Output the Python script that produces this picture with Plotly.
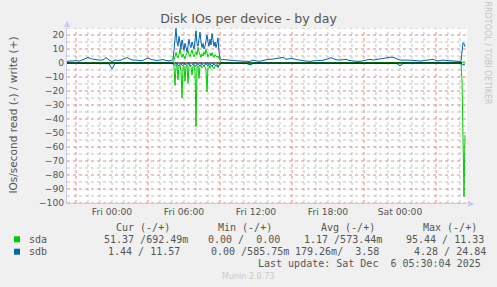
import plotly.graph_objects as go
from datetime import datetime, timedelta

# ---------------- data ----------------
SEG_STARTS = [datetime(2025, 12, 4, 20, 15), datetime(2025, 12, 5, 5, 5),
              datetime(2025, 12, 5, 9, 30), datetime(2025, 12, 6, 5, 5)]
SEG_STEPS = [15, 5, 15, 5]

X_START = datetime(2025, 12, 4, 20, 15)
X_END = datetime(2025, 12, 6, 5, 35)

TICK_LABEL_TIMES = [datetime(2025, 12, 5, 0), datetime(2025, 12, 5, 6), datetime(2025, 12, 5, 12),
                    datetime(2025, 12, 5, 18), datetime(2025, 12, 6, 0)]
TICK_LABELS = ["Fri 00:00", "Fri 06:00", "Fri 12:00", "Fri 18:00", "Sat 00:00"]
MAJOR_GRID_TIMES = [datetime(2025, 12, 4, 21), datetime(2025, 12, 5, 3), datetime(2025, 12, 5, 9),
                    datetime(2025, 12, 5, 15), datetime(2025, 12, 5, 21), datetime(2025, 12, 6, 3)]
Y_MAJOR_GRID = [20, 10, 0, -10, -20, -30, -40, -50, -60, -70, -80, -90, -100]
Y_MINOR_GRID = [25, 15, 5, -5, -15, -25, -35, -45, -55, -65, -75, -85, -95]

# sdb write (+)
sdb_write_q1 = [1.2, 1.1, 1.5, 1.7, 1.3, 2.1, 3.3, 4.0, 3.0, 2.6, 2.1, 2.0, 2.2, 3.9, 2.2, 1.0, 2.1, 1.8,
                2.1, 2.8, 3.9, 2.8, 2.1, 2.0, 1.8, 1.6, 2.6, 3.6, 2.5, 2.1, 1.8, 2.1, 2.5, 1.8, 1.5, 2.0]
sdb_write_burst = [2.5, 9, 17, 24.8, 15, 12, 19, 14, 10, 16.5, 12, 9, 14, 11, 8, 12, 17, 13, 11, 15,
                   12, 10, 16, 23, 14, 12, 17, 22, 15, 11, 14, 10, 12, 16, 20, 15, 12, 17, 13, 21,
                   16, 12, 15, 11, 14, 18, 8, 3.5, 2.5, 2.2, 2.5]
sdb_write_q2 = [2.2, 2.0, 1.8, 1.6, 1.5, 1.4, 1.2, 1.3, 1.1, 2.0, 1.8, 1.2, 1.6, 2.3, 2.6, 2.6, 2.9, 3.2,
                3.8, 4.0, 2.7, 3.0, 3.3, 2.6, 2.1, 1.9, 1.6, 1.4, 1.1, 1.5, 1.6, 1.4, 1.9, 2.3, 3.0, 3.8,
                2.9, 2.2, 2.1, 2.1, 2.6, 1.8, 1.5, 1.4, 1.1, 1.3, 1.9, 2.2, 2.6, 2.1, 2.5, 2.9, 3.3, 3.6,
                4.0, 4.2, 3.9, 3.2, 2.0, 2.1, 2.2, 2.1, 1.9, 1.7, 1.5, 1.4, 1.8, 2.1, 2.4, 2.6, 1.8, 1.5,
                2.1, 1.9, 1.5, 1.4, 1.1, 1.1, 1.0]
sdb_write_end = [1.0, 8.0, 14.6, 13.8, 11.57]

# sdb read (-)
sdb_read_q1 = [-0.05, -0.05, -0.05, -0.05, -0.05, -0.05, -0.05, -0.05, -0.05, -0.05, -0.05, -0.05,
               -0.05, -0.05, -0.5, -4.28, -0.4, -0.05, -0.05, -0.05, -0.05, -0.05, -0.05, -0.05,
               -0.05, -0.05, -0.05, -0.05, -0.05, -0.05, -0.05, -0.05, -0.05, -0.05, -0.05, -0.05]
sdb_read_burst = [-0.2, -1.0, -1.8, -1.2, -0.6, -1.4, -2.2, -1.0, -0.6, -1.6,
                  -2.0, -0.8, -0.6, -1.4, -1.8, -1.0, -0.6, -1.2, -2.0, -1.2,
                  -0.6, -1.0, -1.8, -2.4, -1.0, -0.6, -1.4, -2.0, -1.0, -0.6,
                  -1.2, -2.2, -1.0, -0.6, -1.4, -1.8, -0.8, -0.6, -1.6, -2.4,
                  -1.2, -0.6, -1.4, -2.0, -1.0, -2.8, -1.2, -0.6, -0.2, -0.1, -0.1]
sdb_read_q2 = [-0.05, -0.05, -0.05, -0.05, -0.05, -0.05, -0.05, -0.3, -1.2, -0.3, -0.05, -0.05,
               -0.05, -0.05, -0.05, -0.05, -0.05, -0.05, -0.05, -0.05, -0.05, -0.05, -0.05, -0.05,
               -0.05, -0.05, -0.05, -0.05, -0.05, -0.05, -0.05, -0.05, -0.05, -0.05, -0.05, -0.05,
               -0.05, -0.05, -0.05, -0.05, -0.05, -0.05, -0.05, -0.05, -0.05, -0.05, -0.05, -0.05,
               -0.05, -0.05, -0.05, -0.05, -0.05, -0.05, -0.05, -0.05, -0.05, -0.4, -2.0, -0.4,
               -0.05, -0.05, -0.05, -0.05, -0.05, -0.05, -0.05, -0.05, -0.05, -0.05, -0.05, -0.05,
               -0.05, -0.05, -0.05, -0.05, -0.05, -0.05, -0.05]
sdb_read_end = [-0.1, -1.2, -1.4, -1.0, -1.44]

# sda write (+)
sda_write_q1 = [0.0, 0.0, 0.0, 0.0, 0.0, 0.0, 0.0, 0.0, 0.0, 0.0, 0.0, 0.0, 0.0, 0.0, 0.0, 0.0, 0.0, 0.0,
                0.0, 0.0, 0.0, 0.0, 0.0, 0.0, 0.0, 0.0, 0.0, 0.0, 0.0, 0.0, 0.0, 0.0, 0.0, 0.0, 0.0, 0.1]
sda_write_burst = [0.5, 2, 4.5, 7.5, 5, 3.5, 6, 10.5, 6, 4, 6.5, 4, 3, 5.5, 8, 9, 6, 4.5, 7, 9.5,
                   6, 4.5, 6.5, 8, 5.5, 11.3, 8, 5.5, 4, 6.5, 5, 8, 6, 9.5, 6, 4.5, 6, 7, 5, 7.5,
                   5, 4, 6, 5, 4, 5, 3, 1.5, 0.4, 0.2, 0.1]
sda_write_q2 = [0.0, 0.0, 0.0, 0.0, 0.0, 0.0, 0.0, 0.0, 0.0, 0.0, 0.0, 0.0, 0.0, 0.0, 0.0, 0.0, 0.0, 0.0,
                0.0, 0.0, 0.0, 0.0, 0.0, 0.0, 0.0, 0.0, 0.0, 0.0, 0.0, 0.0, 0.0, 0.0, 0.0, 0.0, 0.0, 0.0,
                0.0, 0.0, 0.0, 0.0, 0.0, 0.0, 0.0, 0.0, 0.0, 0.0, 0.0, 0.0, 0.0, 0.0, 0.0, 0.0, 0.0, 0.0,
                0.0, 0.0, 0.0, 0.0, 0.0, 0.0, 0.0, 0.0, 0.0, 0.0, 0.0, 0.0, 0.0, 0.0, 0.0, 0.0, 0.0, 0.0,
                0.0, 0.0, 0.0, 0.0, 0.0, 0.0, 0.1]
sda_write_end = [0.1, 0.5, 0.6, 0.7, 0.69]

# sda read (-)
sda_read_q1 = [0.0, 0.0, 0.0, 0.0, 0.0, 0.0, 0.0, 0.0, 0.0, 0.0, 0.0, 0.0, 0.0, 0.0, 0.0, 0.0, 0.0, 0.0,
               0.0, 0.0, 0.0, 0.0, 0.0, 0.0, 0.0, 0.0, 0.0, 0.0, 0.0, 0.0, 0.0, 0.0, 0.0, 0.0, 0.0, 0.0]
sda_read_burst = [-0.3, -2, -16, -3, -1.5, -12, -2, -1.5, -6, -25, -3, -2, -13, -2.5, -1.5, -14.5, -2,
                  -1.5, -3, -8.6, -2, -1.5, -6, -45.4, -3, -2, -11, -2, -1.5, -3.5, -2, -1.5, -3,
                  -5, -20.5, -2.5, -1.5, -4, -2, -1.5, -3, -4, -2, -1.5, -2.5, -3.5, -1.5, -1, -0.3,
                  -0.1, 0.0]
sda_read_q2 = [0.0, 0.0, 0.0, 0.0, 0.0, 0.0, 0.0, -0.4, -1.5, -0.3, 0.0, 0.0, 0.0, 0.0, 0.0, 0.0, 0.0, 0.0,
               0.0, 0.0, 0.0, 0.0, 0.0, 0.0, 0.0, 0.0, 0.0, 0.0, 0.0, 0.0, 0.0, 0.0, 0.0, 0.0, 0.0, 0.0,
               0.0, 0.0, 0.0, 0.0, 0.0, 0.0, 0.0, 0.0, 0.0, 0.0, 0.0, 0.0, 0.0, 0.0, 0.0, 0.0, 0.0, 0.0,
               0.0, 0.0, 0.0, 0.0, 0.0, 0.0, 0.0, 0.0, 0.0, 0.0, 0.0, 0.0, 0.0, 0.0, 0.0, 0.0, 0.0, 0.0,
               0.0, 0.0, 0.0, 0.0, 0.0, 0.0, 0.0]
sda_read_end = [0.0, -12.0, -55.0, -95.44, -51.37]

ZERO_LINE_TIMES = [X_START, datetime(2025, 12, 6, 5, 10)]
ZERO_LINE_VALUES = [0, 0]

LEGEND_HEADERS = ["Cur (-/+)", "Min (-/+)", "Avg (-/+)", "Max (-/+)"]
SDA_STATS = ["51.37 /692.49m", "0.00 /\u00a0 0.00", "1.17 /573.44m", "95.44 / 11.33"]
SDB_STATS = ["1.44 / 11.57", "0.00 /585.75m", "179.26m/\u00a0 3.58", "4.28 / 24.84"]

SDA_COLOR = "#00cc00"
SDB_COLOR = "#0066b3"


def build(parts):
    xs, ys = [], []
    for start, step, vals in zip(SEG_STARTS, SEG_STEPS, parts):
        xs += [start + timedelta(minutes=step * k) for k in range(len(vals))]
        ys += list(vals)
    return xs, ys


series = [
    ("sda read", SDA_COLOR, [sda_read_q1, sda_read_burst, sda_read_q2, sda_read_end]),
    ("sda write", SDA_COLOR, [sda_write_q1, sda_write_burst, sda_write_q2, sda_write_end]),
    ("sdb read", SDB_COLOR, [sdb_read_q1, sdb_read_burst, sdb_read_q2, sdb_read_end]),
    ("sdb write", SDB_COLOR, [sdb_write_q1, sdb_write_burst, sdb_write_q2, sdb_write_end]),
]

fig = go.Figure()
for name, color, parts in series:
    xs, ys = build(parts)
    fig.add_trace(go.Scatter(x=xs, y=ys, mode="lines", name=name,
                             line=dict(color=color, width=1), hoverinfo="skip", showlegend=False))

fig.add_trace(go.Scatter(x=ZERO_LINE_TIMES, y=ZERO_LINE_VALUES, mode="lines",
                         line=dict(color="black", width=1.2), hoverinfo="skip", showlegend=False))

# ---------------- layout ----------------
L, R, T, B = 67, 30, 28, 84
W, H = 497, 287
PW, PH = W - L - R, H - T - B


def px(xp):
    return (xp - L) / PW


def py(yp):
    return (H - B - yp) / PH


FONT = "DejaVu Sans"
MONO = "DejaVu Sans Mono"
TXT = "#555555"
MAJOR = "rgba(225,120,120,0.9)"
MINOR = "rgba(185,185,185,0.9)"
DASH = "dot"
AXIS = "#c8c8f0"

fig.update_layout(
    width=W, height=H,
    margin=dict(l=L, r=R, t=T, b=B),
    paper_bgcolor="#f0f0f0", plot_bgcolor="white",
    title=dict(text="Disk IOs per device - by day", x=0.5, xref="container", xanchor="center",
               y=1 - 19 / H, yref="container", yanchor="middle",
               font=dict(family=FONT, size=12.6, color=TXT)),
    xaxis=dict(type="date", range=[X_START, X_END], tickvals=TICK_LABEL_TIMES, ticktext=TICK_LABELS,
               showgrid=False, ticks="", zeroline=False, showline=True, linecolor=AXIS, linewidth=1,
               tickfont=dict(family=FONT, size=9.2, color=TXT)),
    yaxis=dict(range=[-100, 25], tick0=0, dtick=10, showgrid=False, zeroline=False, showline=True,
               linecolor=AXIS, linewidth=1, ticks="", tickfont=dict(family=FONT, size=9.2, color=TXT)),
    showlegend=False,
)

ann = []
ann.append(dict(text="IOs/second read (-) / write (+)", x=px(12), y=0.5, xref="paper", yref="paper",
                textangle=-90, showarrow=False, xanchor="center", yanchor="middle",
                font=dict(family=FONT, size=10.5, color=TXT)))
ann.append(dict(text="RRDTOOL / TOBI OETIKER", x=px(487.5), y=py(53), xref="paper", yref="paper",
                textangle=90, showarrow=False, xanchor="center", yanchor="middle",
                font=dict(family=FONT, size=8, color="#c4c4c4")))
ann.append(dict(text="▲", x=px(67), y=py(24), xref="paper", yref="paper", showarrow=False,
                xanchor="center", yanchor="middle", font=dict(family=FONT, size=8, color=AXIS)))
ann.append(dict(text="▶", x=px(471), y=py(203), xref="paper", yref="paper", showarrow=False,
                xanchor="center", yanchor="middle", font=dict(family=FONT, size=8, color=AXIS)))

header_cx = [142.5, 245, 347.5, 449.5]
sda_cx = [146, 244, 342.5, 444.5]
sdb_cx = [144, 250, 336.5, 449.5]
for txt, cx in zip(LEGEND_HEADERS, header_cx):
    ann.append(dict(text=txt, x=px(cx), y=py(227.7), xref="paper", yref="paper", showarrow=False,
                    xanchor="center", yanchor="middle", font=dict(family=MONO, size=10, color=TXT)))
for row_y, label, stats, cxs in [(239.3, "sda", SDA_STATS, sda_cx), (251.7, "sdb", SDB_STATS, sdb_cx)]:
    ann.append(dict(text=label, x=px(26.5), y=py(row_y), xref="paper", yref="paper", showarrow=False,
                    xanchor="left", yanchor="middle", font=dict(family=MONO, size=10, color=TXT)))
    for txt, cx in zip(stats, cxs):
        ann.append(dict(text=txt, x=px(cx), y=py(row_y), xref="paper", yref="paper", showarrow=False,
                        xanchor="center", yanchor="middle", font=dict(family=MONO, size=10, color=TXT)))
ann.append(dict(text="Last update: Sat Dec \u00a06 05:30:04 2025", x=px(483), y=py(263.7), xref="paper",
                yref="paper", showarrow=False, xanchor="right", yanchor="middle",
                font=dict(family=MONO, size=10, color=TXT)))
ann.append(dict(text="Munin 2.0.73", x=px(248), y=py(276), xref="paper", yref="paper", showarrow=False,
                xanchor="center", yanchor="middle", font=dict(family=FONT, size=8, color="#c8c8c8")))
fig.update_layout(annotations=ann)

shapes = []
# hourly minor grid (gray), skipping the 6-hourly major positions
hour = datetime(2025, 12, 4, 21)
while hour < X_END:
    if hour not in MAJOR_GRID_TIMES:
        shapes.append(dict(type="line", xref="x", yref="paper", x0=hour, x1=hour, y0=0, y1=1,
                           layer="below", line=dict(color=MINOR, width=1, dash=DASH)))
    hour += timedelta(hours=1)
for v in Y_MINOR_GRID:
    shapes.append(dict(type="line", xref="paper", yref="y", x0=0, x1=1, y0=v, y1=v, layer="below",
                       line=dict(color=MINOR, width=1, dash=DASH)))
# major grid (red)
for t in MAJOR_GRID_TIMES:
    shapes.append(dict(type="line", xref="x", yref="paper", x0=t, x1=t, y0=0, y1=1, layer="below",
                       line=dict(color=MAJOR, width=1, dash=DASH)))
for v in Y_MAJOR_GRID:
    shapes.append(dict(type="line", xref="paper", yref="y", x0=0, x1=1, y0=v, y1=v, layer="below",
                       line=dict(color=MAJOR, width=1, dash=DASH)))
for row_y, color in [(239.3, SDA_COLOR), (251.7, SDB_COLOR)]:
    shapes.append(dict(type="rect", xref="paper", yref="paper", x0=px(14), x1=px(20),
                       y0=py(row_y + 3), y1=py(row_y - 3), fillcolor=color, line=dict(width=0)))
fig.update_layout(shapes=shapes)

fig.write_html("out.html")
